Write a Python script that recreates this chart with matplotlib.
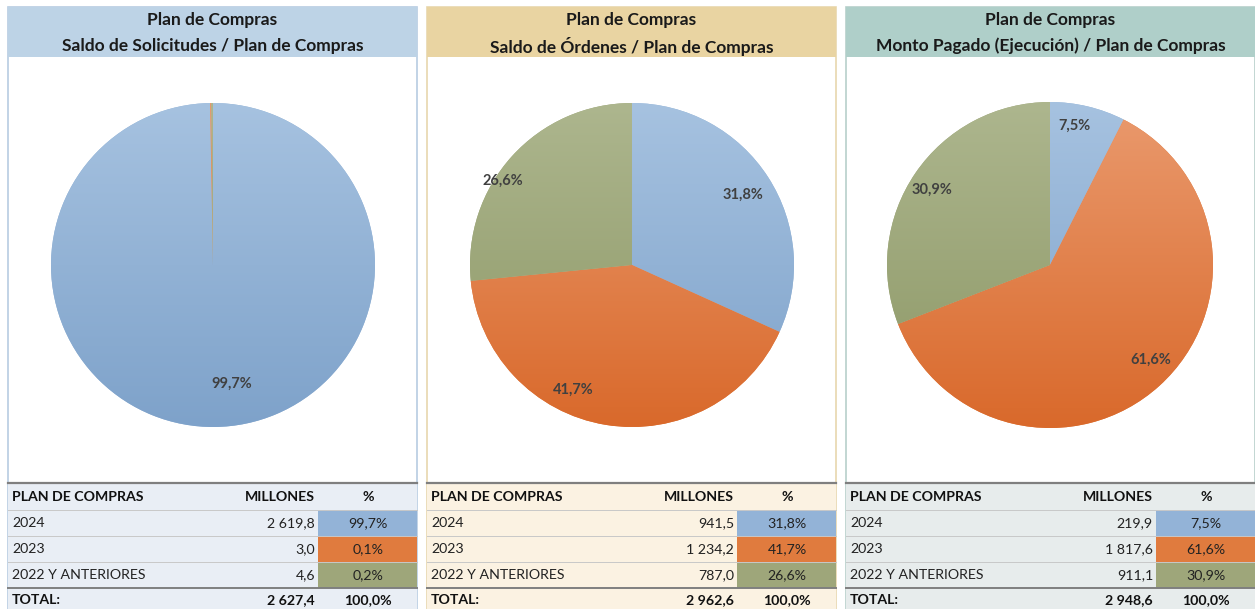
import matplotlib
matplotlib.use("Agg")
import matplotlib.pyplot as plt
import numpy as np
from matplotlib.patches import Rectangle
from matplotlib.colors import LinearSegmentedColormap

# ---------------- data ----------------
categories = ["2024", "2023", "2022 Y ANTERIORES"]
solicitudes = [2619.8, 3.0, 4.6]
ordenes = [941.5, 1234.2, 787.0]
pagado = [219.9, 1817.6, 911.1]
totales = [2627.4, 2962.6, 2948.6]
titulos = [
    "Saldo de Solicitudes / Plan de Compras",
    "Saldo de Órdenes / Plan de Compras",
    "Monto Pagado (Ejecución) / Plan de Compras",
]
# which slices get a label inside the pie
mostrar = [[True, False, False], [True, True, True], [True, True, True]]

# ---------------- styles ----------------
W, H = 1255, 609
plt.rcParams['font.family'] = ['Lato', 'DejaVu Sans']
slice_top = ["#A6C2E0", "#EA9A6E", "#ADB68E"]
slice_bot = ["#7EA2CA", "#D9692B", "#8C9765"]
cell_cols = ["#93B3D7", "#E07B3E", "#9EA67A"]
head_cols = ["#BDD3E6", "#E9D4A2", "#AFCFC9"]
tab_bg = ["#E9EEF5", "#FBF2E2", "#E7ECEC"]
border_cols = ["#B7CCE2", "#E8D7AE", "#B7CFCB"]
panels_x = [8, 427, 846]
panel_w = 409
centers = [(213, 265, 162), (632, 265, 162), (1050, 265, 163)]
# label placement style (radial distance, angular shift in degrees) per slice
lab_dist = [[0.74, 0.8, 0.8], [0.81, 0.85, 0.95], [0.87, 0.85, 0.86]]
lab_shift = [[8.6, 0, 0], [-0.6, -15.7, 9.1], [3.4, 4.7, 2.0]]

fig = plt.figure(figsize=(W / 100, H / 100), dpi=100)
base = fig.add_axes([0, 0, 1, 1])
base.set_xlim(0, W)
base.set_ylim(H, 0)
base.axis("off")


def fmt(v):
    s = f"{v:,.1f}"
    return s.replace(",", " ").replace(".", ",")


def fmtp(p):
    return f"{p:.1f}%".replace(".", ",")


series = [solicitudes, ordenes, pagado]

for i in range(3):
    x0 = panels_x[i]
    base.add_patch(Rectangle((x0, 7), panel_w, H - 7, facecolor="white",
                             edgecolor=border_cols[i], lw=1.2, zorder=0))
    base.add_patch(Rectangle((x0, 7), panel_w, 50, facecolor=head_cols[i],
                             edgecolor="none", zorder=1))
    base.text(x0 + panel_w / 2, 20, "Plan de Compras", ha="center", va="center",
              fontsize=12.5, fontweight="bold", color="#1a1a1a", zorder=2)
    base.text(x0 + panel_w / 2, 46, titulos[i], ha="center", va="center",
              fontsize=12.5, fontweight="bold", color="#1a1a1a", zorder=2)

    base.add_patch(Rectangle((x0, 483), panel_w, H - 483, facecolor=tab_bg[i],
                             edgecolor="none", zorder=1))
    vals = series[i]
    tot = totales[i]
    pcts = [v / sum(vals) * 100 for v in vals]
    row_y = [510, 536, 562]
    colx = x0 + 310
    for r in range(3):
        base.add_patch(Rectangle((colx, row_y[r]), x0 + panel_w - colx, 26,
                                 facecolor=cell_cols[r], edgecolor="none", zorder=1.5))
    base.plot([x0, x0 + panel_w], [483, 483], color="#7f7f7f", lw=1.6, zorder=2)
    for yy in [509.5, 535.5, 561.5]:
        base.plot([x0, x0 + panel_w], [yy, yy], color="#c8c8c8", lw=0.7, zorder=2)
    base.plot([x0, x0 + panel_w], [588, 588], color="#7f7f7f", lw=1.4, zorder=2)

    fs = 10.2
    base.text(x0 + 4, 497, "PLAN DE COMPRAS", ha="left", va="center", fontsize=fs,
              fontweight="bold", color="#111111", zorder=3)
    base.text(x0 + 307, 497, "MILLONES", ha="right", va="center", fontsize=fs,
              fontweight="bold", color="#111111", zorder=3)
    base.text(x0 + 360, 497, "%", ha="center", va="center", fontsize=fs,
              fontweight="bold", color="#111111", zorder=3)
    for r in range(3):
        yc = row_y[r] + 13
        base.text(x0 + 4, yc, categories[r], ha="left", va="center", fontsize=fs,
                  color="#222222", zorder=3)
        base.text(x0 + 307, yc, fmt(vals[r]), ha="right", va="center", fontsize=fs,
                  color="#222222", zorder=3)
        base.text(x0 + 360, yc, fmtp(pcts[r]), ha="center", va="center", fontsize=fs,
                  color="#222222", zorder=3)
    base.text(x0 + 4, 600, "TOTAL:", ha="left", va="center", fontsize=fs,
              fontweight="bold", color="#111111", zorder=3)
    base.text(x0 + 307, 600, fmt(tot), ha="right", va="center", fontsize=fs,
              fontweight="bold", color="#111111", zorder=3)
    base.text(x0 + 360, 600, "100,0%", ha="center", va="center", fontsize=fs,
              fontweight="bold", color="#111111", zorder=3)

    # pie
    cx, cy, rad = centers[i]
    ax = fig.add_axes([(cx - rad) / W, (H - cy - rad) / H, 2 * rad / W, 2 * rad / H])
    ax.axis("off")
    wedges, _ = ax.pie(vals, startangle=90, counterclock=False, radius=1,
                       colors=cell_cols, wedgeprops=dict(lw=0))
    for k, w in enumerate(wedges):
        cmap = LinearSegmentedColormap.from_list("g", [slice_bot[k], slice_top[k]])
        grad = np.linspace(0, 1, 256).reshape(-1, 1)
        im = ax.imshow(grad, cmap=cmap, extent=(-1, 1, -1, 1), origin="lower",
                       aspect="auto", zorder=2)
        im.set_clip_path(w)
    ax.set_xlim(-1, 1)
    ax.set_ylim(-1, 1)
    ang = 90.0
    for k, v in enumerate(vals):
        frac = v / sum(vals)
        mid = ang - frac * 360 / 2 + lab_shift[i][k]
        ang -= frac * 360
        if mostrar[i][k]:
            rr = lab_dist[i][k]
            ax.text(rr * np.cos(np.radians(mid)), rr * np.sin(np.radians(mid)),
                    fmtp(pcts[k]), ha="center", va="center", fontsize=10.5,
                    fontweight="bold", color="#404040", zorder=5)

fig.savefig("out.png", dpi=100)
